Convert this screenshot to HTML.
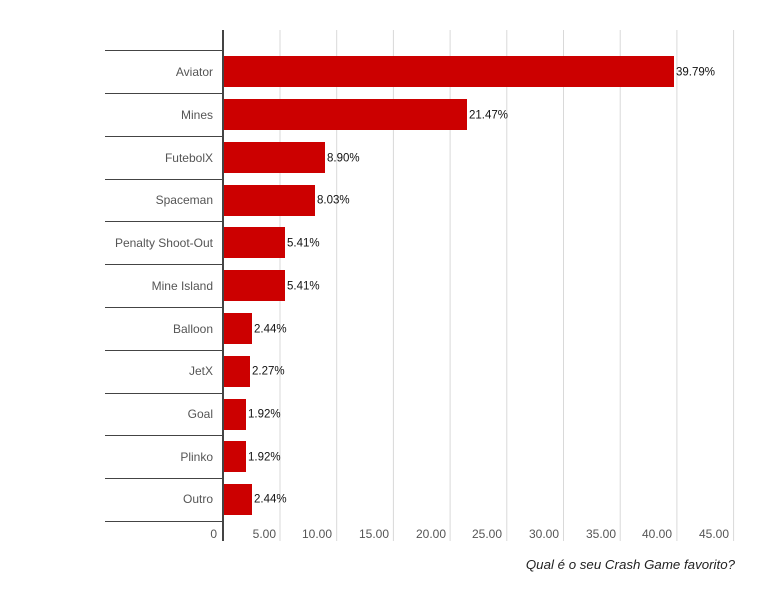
<!DOCTYPE html><html><head><style>body{margin:0;background:#fff}text{font-family:"Liberation Sans",sans-serif}</style></head><body>
<svg width="773" height="609" xmlns="http://www.w3.org/2000/svg">
<g stroke="#d9d9d9" stroke-width="1">
<line x1="280" y1="30" x2="280" y2="541"/><line x1="336.7" y1="30" x2="336.7" y2="541"/><line x1="393.4" y1="30" x2="393.4" y2="541"/><line x1="450.1" y1="30" x2="450.1" y2="541"/><line x1="506.8" y1="30" x2="506.8" y2="541"/><line x1="563.5" y1="30" x2="563.5" y2="541"/><line x1="620.2" y1="30" x2="620.2" y2="541"/><line x1="676.9" y1="30" x2="676.9" y2="541"/><line x1="733.6" y1="30" x2="733.6" y2="541"/>
</g>
<g stroke="#444" stroke-width="1">
<line x1="105" y1="50.5" x2="223" y2="50.5"/><line x1="105" y1="93.5" x2="223" y2="93.5"/><line x1="105" y1="136.5" x2="223" y2="136.5"/><line x1="105" y1="179.5" x2="223" y2="179.5"/><line x1="105" y1="221.5" x2="223" y2="221.5"/><line x1="105" y1="264.5" x2="223" y2="264.5"/><line x1="105" y1="307.5" x2="223" y2="307.5"/><line x1="105" y1="350.5" x2="223" y2="350.5"/><line x1="105" y1="393.5" x2="223" y2="393.5"/><line x1="105" y1="435.5" x2="223" y2="435.5"/><line x1="105" y1="478.5" x2="223" y2="478.5"/><line x1="105" y1="521.5" x2="223" y2="521.5"/>
</g>
<g fill="#cc0000">
<rect x="224" y="56" width="450" height="31"/>
<rect x="224" y="99" width="243" height="31"/>
<rect x="224" y="142" width="101" height="31"/>
<rect x="224" y="185" width="91" height="31"/>
<rect x="224" y="227" width="61" height="31"/>
<rect x="224" y="270" width="61" height="31"/>
<rect x="224" y="313" width="28" height="31"/>
<rect x="224" y="356" width="26" height="31"/>
<rect x="224" y="399" width="22" height="31"/>
<rect x="224" y="441" width="22" height="31"/>
<rect x="224" y="484" width="28" height="31"/>
</g>
<line x1="223" y1="30" x2="223" y2="541" stroke="#444" stroke-width="2"/>
<g font-size="12" fill="#555" text-anchor="end">
<text x="213" y="76">Aviator</text><text x="213" y="119">Mines</text><text x="213" y="162">FutebolX</text><text x="213" y="204">Spaceman</text><text x="213" y="247">Penalty Shoot-Out</text><text x="213" y="290">Mine Island</text><text x="213" y="333">Balloon</text><text x="213" y="375">JetX</text><text x="213" y="418">Goal</text><text x="213" y="461">Plinko</text><text x="213" y="503">Outro</text>
</g>
<g font-size="11.5" fill="#111">
<text x="676" y="75.5">39.79%</text><text x="469" y="118.5">21.47%</text><text x="327" y="161.5">8.90%</text><text x="317" y="203.5">8.03%</text><text x="287" y="246.5">5.41%</text><text x="287" y="289.5">5.41%</text><text x="254" y="332.5">2.44%</text><text x="252" y="374.5">2.27%</text><text x="248" y="417.5">1.92%</text><text x="248" y="460.5">1.92%</text><text x="254" y="502.5">2.44%</text>
</g>
<g font-size="12" fill="#555" text-anchor="end">
<text x="217" y="538">0</text><text x="276" y="538">5.00</text><text x="332" y="538">10.00</text><text x="389" y="538">15.00</text><text x="446" y="538">20.00</text><text x="502" y="538">25.00</text><text x="559" y="538">30.00</text><text x="616" y="538">35.00</text><text x="672" y="538">40.00</text><text x="729" y="538">45.00</text>
</g>
<text x="735" y="569" font-size="13.3" font-style="italic" fill="#222" text-anchor="end">Qual é o seu Crash Game favorito?</text>
</svg></body></html>
